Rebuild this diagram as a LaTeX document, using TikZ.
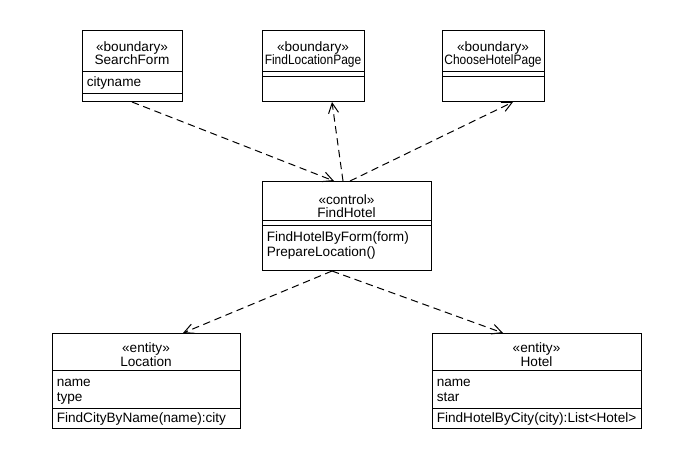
\documentclass[tikz,border=0pt]{standalone}
\usepackage{graphicx}
\usepackage{fontspec}
\setmainfont{Liberation Sans}
\usetikzlibrary{arrows.meta,calc}
\newcommand\hdiv[2]{\draw[sepline] ($(#1.north west)+(0,#2)$) -- ($(#1.north east)+(0,#2)$);}
\newcommand\narrowtext[1]{\scalebox{0.88}[1]{#1}}
\begin{document}
\begin{tikzpicture}[x=0.75pt,y=-0.75pt,
  every node/.style={font=\fontsize{10.2}{12}\selectfont},
  cls/.style={draw, line width=0.75pt, inner sep=0pt, anchor=north west},
  ctr/.style={inner sep=0pt, anchor=base},
  lft/.style={inner sep=0pt, anchor=base west},
  dep/.style={line width=0.75pt, dash pattern=on 5.5pt off 3.5pt, -{Straight Barb[length=7.5pt,width=7.5pt]}},
  sepline/.style={line width=0.75pt}]
\fill[white] (0,0) rectangle (680,458);
\useasboundingbox (0,0) rectangle (680,458);

% class boxes
\node[cls, minimum width=75pt, minimum height=53.25pt] (sf) at (82,30) {};
\node[cls, minimum width=76.5pt, minimum height=53.25pt] (flp) at (262,30) {};
\node[cls, minimum width=76.5pt, minimum height=53.25pt] (chp) at (442,30) {};
\node[cls, minimum width=126.75pt, minimum height=66.75pt] (fh) at (262,181) {};
\node[cls, minimum width=141pt, minimum height=71.25pt] (loc) at (52,333) {};
\node[cls, minimum width=156.75pt, minimum height=71.25pt] (hot) at (432,333) {};

% compartments
\hdiv{sf}{41}\hdiv{sf}{63}
\hdiv{flp}{41}\hdiv{flp}{46.5}
\hdiv{chp}{41}\hdiv{chp}{46.5}
\hdiv{fh}{39}\hdiv{fh}{44}
\hdiv{loc}{37}\hdiv{loc}{75}
\hdiv{hot}{37}\hdiv{hot}{75}

% texts
\node[ctr] (sfst) at (132,51.5) {«boundary»};
\node[ctr] (sfnm) at (132,64.5) {SearchForm};
\node[lft] (sfa1) at (86.5,86) {cityname};

\node[ctr] (flpst) at (313,51.5) {«boundary»};
\node[ctr] (flpnm) at (313,64.5) {\narrowtext{FindLocationPage}};

\node[ctr] (chpst) at (493,51.5) {«boundary»};
\node[ctr] (chpnm) at (493,64.5) {\narrowtext{ChooseHotelPage}};

\node[ctr] (fhst) at (346.5,204.5) {«control»};
\node[ctr] (fhnm) at (346.5,217.5) {FindHotel};
\node[lft] (fhm1) at (266.5,241.5) {FindHotelByForm(form)};
\node[lft] (fhm2) at (266.5,256.5) {PrepareLocation()};

\node[ctr] (locst) at (146,352.5) {«entity»};
\node[ctr] (locnm) at (146,366.5) {Location};
\node[lft] (loca1) at (56.5,386.5) {name};
\node[lft] (loca2) at (56.5,401.5) {type};
\node[lft] (locm1) at (56.5,422.5) {FindCityByName(name):city};

\node[ctr] (hotst) at (536.5,352.5) {«entity»};
\node[ctr] (hotnm) at (536.5,366.5) {Hotel};
\node[lft] (hota1) at (436.5,386.5) {name};
\node[lft] (hota2) at (436.5,401.5) {star};
\node[lft] (hotm1) at (436.5,422.5) {FindHotelByCity(city):List<Hotel>};

% dependencies
\draw[dep] ($(sf.south west)+(50,0)$) -- ($(fh.north west)+(72,0)$);
\draw[dep] ($(fh.north west)+(81,0)$) -- ($(flp.south west)+(70,0)$);
\draw[dep] ($(fh.north west)+(88,0)$) -- ($(chp.south west)+(71,0)$);
\draw[dep] ($(fh.south west)+(70,0)$) -- ($(loc.north west)+(131,0)$);
\draw[dep] ($(fh.south west)+(70,0)$) -- ($(hot.north west)+(71,0)$);
\end{tikzpicture}
\end{document}
